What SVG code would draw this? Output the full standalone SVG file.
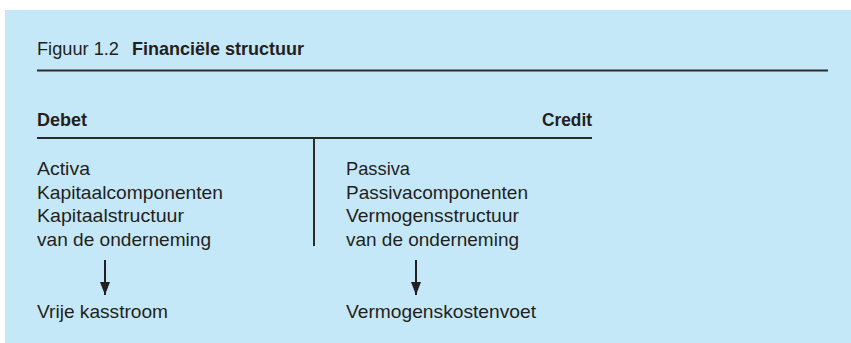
<svg xmlns="http://www.w3.org/2000/svg" width="851" height="343" viewBox="0 0 851 343">
<style>
text{font-family:"Liberation Sans",Arial,sans-serif;font-size:18.5px;fill:#231f20}
.b{font-weight:bold}
.rule{stroke:#2b2b2b;stroke-width:2;fill:none}
.conn{stroke:#231f20;stroke-width:2;fill:none;marker-end:url(#ah)}
</style>
<defs>
<marker id="ah" viewBox="0 0 13 10" refX="13" refY="5" markerWidth="13" markerHeight="10" markerUnits="userSpaceOnUse" orient="auto">
<path d="M0,0 L13,5 L0,10 Z" fill="#231f20"/>
</marker>
</defs>
<rect x="5" y="10" width="846" height="333" fill="#c5e8f8"/>
<g id="title">
<text x="37" y="55" textLength="82" lengthAdjust="spacingAndGlyphs">Figuur 1.2</text>
<text class="b" x="132" y="55" textLength="172" lengthAdjust="spacingAndGlyphs">Financiële structuur</text>
<line class="rule" x1="37" y1="70.5" x2="828" y2="70.5"/>
</g>
<g id="header">
<text class="b" x="37" y="126" textLength="50" lengthAdjust="spacingAndGlyphs">Debet</text>
<text class="b" x="542" y="126" textLength="50" lengthAdjust="spacingAndGlyphs">Credit</text>
<line class="rule" x1="37" y1="138" x2="592" y2="138"/>
<line class="rule" x1="314" y1="138" x2="314" y2="246"/>
</g>
<g id="debet">
<text x="37" y="175" textLength="53" lengthAdjust="spacingAndGlyphs">Activa</text>
<text x="37" y="198.5" textLength="186" lengthAdjust="spacingAndGlyphs">Kapitaalcomponenten</text>
<text x="37" y="222" textLength="147" lengthAdjust="spacingAndGlyphs">Kapitaalstructuur</text>
<text x="37" y="246" textLength="174" lengthAdjust="spacingAndGlyphs">van de onderneming</text>
</g>
<g id="credit">
<text x="346" y="175" textLength="64" lengthAdjust="spacingAndGlyphs">Passiva</text>
<text x="346" y="198.5" textLength="182" lengthAdjust="spacingAndGlyphs">Passivacomponenten</text>
<text x="346" y="222" textLength="173" lengthAdjust="spacingAndGlyphs">Vermogensstructuur</text>
<text x="346" y="246" textLength="173" lengthAdjust="spacingAndGlyphs">van de onderneming</text>
</g>
<g id="vrije-kasstroom">
<text x="37" y="318" textLength="131" lengthAdjust="spacingAndGlyphs">Vrije kasstroom</text>
</g>
<g id="vermogenskostenvoet">
<text x="346" y="318" textLength="190" lengthAdjust="spacingAndGlyphs">Vermogenskostenvoet</text>
</g>
<g id="connectors">
<line class="conn" x1="105" y1="260" x2="105" y2="295"/>
<line class="conn" x1="416" y1="260" x2="416" y2="295"/>
</g>
</svg>
